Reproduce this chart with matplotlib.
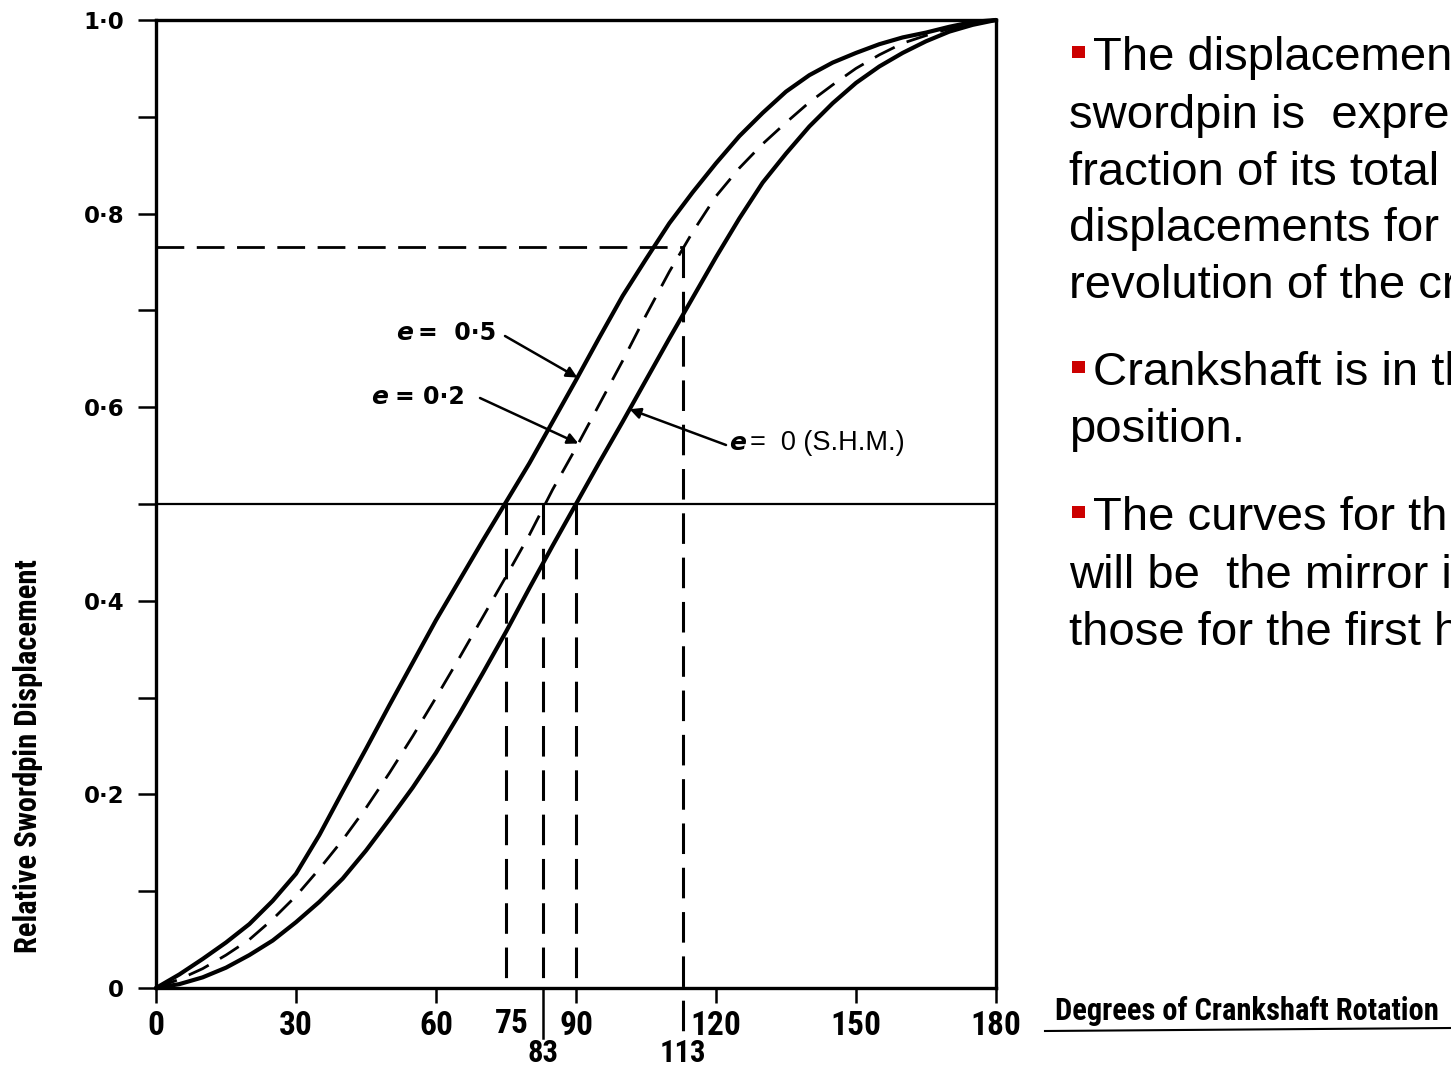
import numpy as np
import matplotlib
matplotlib.use("Agg")
import matplotlib.pyplot as plt
from matplotlib.patches import Rectangle
from matplotlib.lines import Line2D

# ---------------- data ----------------
crank_deg = [0, 5, 10, 15, 20, 25, 30, 35, 40, 45, 50, 55, 60, 65, 70, 75, 80, 85, 90,
             95, 100, 105, 110, 115, 120, 125, 130, 135, 140, 145, 150, 155, 160, 165,
             170, 175, 180]
# e = 0 (simple harmonic motion)
disp_e0 = [0, 0.004, 0.011, 0.021, 0.034, 0.049, 0.068, 0.089, 0.113, 0.142, 0.174, 0.207,
           0.243, 0.283, 0.325, 0.368, 0.413, 0.457, 0.5, 0.543, 0.585, 0.628, 0.671, 0.713,
           0.755, 0.795, 0.832, 0.862, 0.89, 0.914, 0.935, 0.952, 0.966, 0.978, 0.988,
           0.995, 1.0]
# e = 0.2
disp_e02 = [0, 0.009, 0.02, 0.034, 0.05, 0.071, 0.095, 0.123, 0.153, 0.186, 0.222, 0.26,
            0.3, 0.341, 0.383, 0.425, 0.468, 0.515, 0.558, 0.603, 0.648, 0.695, 0.74, 0.781,
            0.818, 0.847, 0.872, 0.894, 0.915, 0.933, 0.95, 0.964, 0.976, 0.984, 0.991,
            0.996, 1.0]
# e = 0.5
disp_e05 = [0, 0.014, 0.03, 0.047, 0.066, 0.09, 0.118, 0.158, 0.203, 0.247, 0.292, 0.336,
            0.38, 0.421, 0.462, 0.502, 0.542, 0.585, 0.628, 0.672, 0.715, 0.753, 0.79, 0.822,
            0.852, 0.88, 0.904, 0.926, 0.943, 0.956, 0.966, 0.975, 0.982, 0.987, 0.993,
            0.998, 1.0]

x_ticks = [0, 30, 60, 90, 120, 150, 180]
x_tick_labels = ["0", "30", "60", "90", "120", "150", "180"]
y_ticks = [0, 0.2, 0.4, 0.6, 0.8, 1.0]
y_tick_labels = ["0", "0·2", "0·4", "0·6", "0·8", "1·0"]
y_minor = [0.1, 0.3, 0.5, 0.7, 0.9]

half_level = 0.5
cross_e05, cross_e02, cross_e0 = 75, 83, 90
ref_angle = 113
ref_level = 0.765

bullets = [
    ["The displacemen", "swordpin is  expre", "fraction of its total",
     "displacements for", "revolution of the cr"],
    ["Crankshaft is in th", "position."],
    ["The curves for th", "will be  the mirror i", "those for the first h"],
]

# ---------------- figure ----------------
W, H = 1451, 1070
fig = plt.figure(figsize=(W / 100, H / 100), dpi=100)
fig.patch.set_facecolor("white")

AX_L, AX_R, AX_T, AX_B = 156, 996, 20, 988
ax = fig.add_axes([AX_L / W, 1 - AX_B / H, (AX_R - AX_L) / W, (AX_B - AX_T) / H])
ax.set_xlim(0, 180)
ax.set_ylim(0, 1)

def d(px, py):
    """pixel position -> data position (for text placement)"""
    return ((px - AX_L) / (AX_R - AX_L) * 180, (AX_B - py) / (AX_B - AX_T))

for s in ax.spines.values():
    s.set_linewidth(2.4)

narrow = ["Roboto Condensed", "Liberation Sans Narrow", "Liberation Sans"]

ax.set_xticks(x_ticks)
ax.set_xticklabels(x_tick_labels, fontsize=24, fontweight="bold", family=narrow)
ax.set_yticks(y_ticks)
ax.set_yticklabels(y_tick_labels, fontsize=16.5, fontweight="bold", family="DejaVu Sans")
ax.set_yticks(y_minor, minor=True)
ax.tick_params(axis="y", which="both", length=13, width=1.8, direction="out", pad=10)
ax.tick_params(axis="x", which="major", length=11, width=1.8, direction="out", pad=5)

# curves
ax.plot(crank_deg, disp_e05, color="black", lw=3.0, solid_capstyle="round",
        solid_joinstyle="round", clip_on=False, zorder=3)
ax.plot(crank_deg, disp_e0, color="black", lw=3.0, solid_capstyle="round",
        solid_joinstyle="round", clip_on=False, zorder=3)
ax.plot(crank_deg, disp_e02, color="black", lw=2.0, ls=(0, (8, 4.7)), clip_on=False, zorder=3)

# reference lines
ax.axhline(half_level, color="black", lw=1.6, zorder=2)
dash_v = (0, (10, 4.5))
ax.plot([0, ref_angle], [ref_level, ref_level], color="black", lw=2.0, ls=dash_v, zorder=2)
ax.plot([ref_angle, ref_angle], [ref_level, -0.045], color="black", lw=2.2, ls=dash_v,
        clip_on=False, zorder=2)
for a in (cross_e05, cross_e02, cross_e0):
    ax.plot([a, a], [half_level, 0], color="black", lw=2.2, ls=dash_v, zorder=2)
ax.plot([cross_e02, cross_e02], [0, -0.052], color="black", lw=1.8, clip_on=False)

# extra angle labels
lab_kw = dict(fontsize=24, fontweight="bold", family=narrow, ha="center", va="center",
              clip_on=False)
ax.text(cross_e05 + 1.2, d(0, 1024)[1], str(cross_e05), **lab_kw)
low_kw = dict(lab_kw, fontsize=22)
ax.text(cross_e02, d(0, 1053)[1], str(cross_e02), **low_kw)
ax.text(ref_angle, d(0, 1053)[1], str(ref_angle), **low_kw)

# curve labels with arrows
def arrow_to(curve, xa, start):
    ya = float(np.interp(xa, crank_deg, curve))
    ax.annotate("", xy=(xa, ya), xytext=start,
                arrowprops=dict(arrowstyle="-|>", lw=1.8, color="black",
                                mutation_scale=16, shrinkA=0, shrinkB=0))

e_kw = dict(fontsize=18, fontweight="bold", fontstyle="italic", family="DejaVu Sans",
            ha="right", va="baseline")
v_kw = dict(fontsize=17, fontweight="bold", family="DejaVu Sans", ha="left", va="baseline")

ax.text(*d(413, 340), "e", **e_kw)
ax.text(*d(418, 340), "=  0·5", **v_kw)
arrow_to(disp_e05, 90.3, d(505, 336))

ax.text(*d(388, 404), "e", **e_kw)
ax.text(*d(395, 404), "= 0·2", **v_kw)
arrow_to(disp_e02, 90.5, d(480, 398))

ax.text(*d(746, 450), "e", **e_kw)
ax.text(*d(750, 450), "=  0 (S.H.M.)", fontsize=19.5, family="Liberation Sans", ha="left",
        va="baseline")
arrow_to(disp_e0, 101.5, d(726, 445))

# axis titles
fig.text(28 / W, 1 - 756 / H, "Relative Swordpin Displacement", rotation=90,
         fontsize=22, fontweight="bold", family=narrow, ha="center", va="center")
fig.text(1055 / W, 1 - 1011 / H, "Degrees of Crankshaft Rotation", fontsize=22,
         fontweight="bold", family=narrow, ha="left", va="center")
fig.add_artist(Line2D([1045 / W, 1451 / W], [1 - 1031 / H, 1 - 1028 / H],
                      transform=fig.transFigure, color="black", lw=1.5))

# right-hand bullet text
baselines = [[70, 128, 185, 241, 298], [385, 442], [530, 588, 645]]
for para, bl in zip(bullets, baselines):
    for i, (line, y) in enumerate(zip(para, bl)):
        x0 = 1093 if i == 0 else 1069
        fig.text(x0 / W, 1 - y / H, line, fontsize=34, family="Liberation Sans",
                 ha="left", va="baseline", color="black")
        if i == 0:
            fig.add_artist(Rectangle((1072 / W, 1 - (y - 12) / H), 13 / W, 12 / H,
                                     transform=fig.transFigure, color="#CC0000", lw=0))

fig.savefig("out.png", dpi=100, facecolor="white")
